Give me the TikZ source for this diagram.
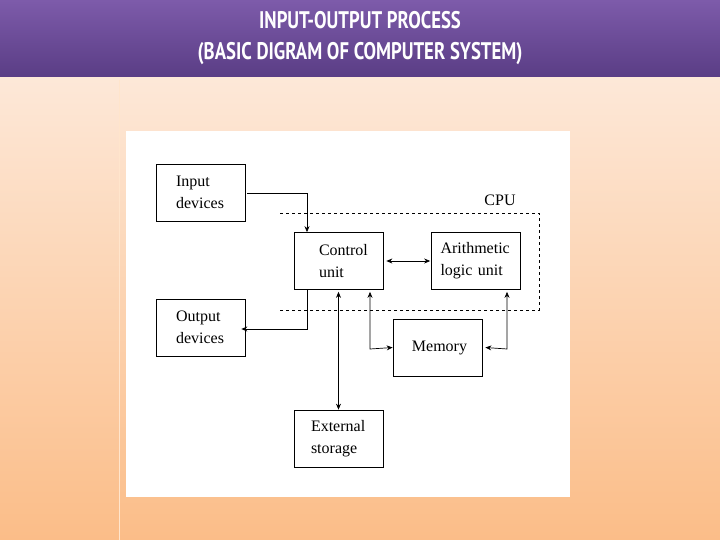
\documentclass[tikz,border=0pt]{standalone}
\usepackage{fontspec}
\setmainfont{Liberation Serif}
\newfontfamily\titlefont{PT Sans}
\usetikzlibrary{arrows.meta}
\definecolor{ptop}{HTML}{7D5BAA}
\definecolor{pbot}{HTML}{5A3D85}
\definecolor{btop}{HTML}{FDE8D8}
\definecolor{bbot}{HTML}{FBBD88}
\begin{document}
\begin{tikzpicture}[x=1pt,y=-1pt,
  box/.style={draw,line width=0.7pt,minimum width=89pt,minimum height=57pt,inner sep=0pt},
  lbl/.style={align=left,font=\fontsize{16}{22}\selectfont,text width=75pt},
  arr/.style={line width=0.7pt,-{Stealth[length=6pt,width=5pt]}},
  darr/.style={line width=0.7pt,{Stealth[length=6pt,width=5pt]}-{Stealth[length=6pt,width=5pt]}}]
\useasboundingbox (0,0) rectangle (720,540);
\shade[top color=btop,bottom color=bbot] (0,77) rectangle (720,540);
\shade[top color=ptop,bottom color=pbot] (0,0) rectangle (720,77);
\draw[white!80!orange,line width=1pt] (119,80) -- (119,540);
\fill[white] (126,131) rectangle (570,497);
\node[white,font=\titlefont\bfseries\fontsize{24}{31}\selectfont,align=center] (title) at (360,38)
  {\scalebox{0.78}[1]{INPUT-OUTPUT PROCESS}\\\scalebox{0.78}[1]{(BASIC DIGRAM OF COMPUTER SYSTEM)}};
\node[box] (in) at (200.5,192.5) {};
\node[lbl] at ([xshift=13pt]in) {Input\\devices};
\node[box] (out) at (200.5,327.5) {};
\node[lbl] at ([xshift=13pt]out) {Output\\devices};
\node[box] (cu) at (338.5,261) {};
\node[lbl] at ([xshift=18pt]cu) {Control\\unit};
\node[box] (alu) at (476,261) {};
\node[lbl] at ([xshift=2pt]alu) {Arithmetic\\logic unit};
\node[box] (mem) at (437.5,347.5) {};
\node[font=\fontsize{16}{16}\selectfont] at ([xshift=2pt]mem) {Memory};
\node[box] (ext) at (338.5,438.5) {};
\node[lbl] at ([xshift=10pt]ext) {External\\storage};
\draw[dashed,line width=0.6pt] (280,213) -- (539,213) -- (539,310) -- (280,310);
\node[font=\fontsize{16}{16}\selectfont] (cpu) at (500,200) {CPU};
\coordinate (c1) at (307,193);
\coordinate (c2) at (307,329);
\coordinate (c3) at (370,349);
\coordinate (c4) at (507,349);
\draw[arr] ([xshift=2pt]in.east |- c1) -- (c1) -- (c1 |- cu.north);
\draw[arr] (c2 |- cu.south) -- (c2) -- ([xshift=-4pt]out.east |- c2);
\draw[darr] ([xshift=3pt]cu.east) -- ([xshift=-1pt]alu.west);
\draw[darr] ([yshift=-2pt]cu.south) -- (ext.north);
\draw[darr] ([yshift=-2pt]c3 |- cu.south) -- (c3) -- (mem.west);
\draw[darr] ([yshift=-2pt]c4 |- alu.south) -- (c4) -- ([xshift=3pt]mem.east);
\end{tikzpicture}
\end{document}
